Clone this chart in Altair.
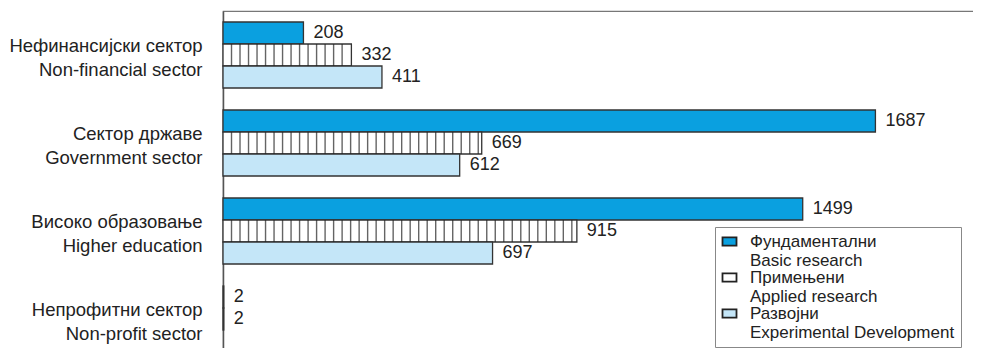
import altair as alt
import pandas as pd

groups = [
    "Нефинансијски сектор|Non-financial sector",
    "Сектор државе|Government sector",
    "Високо образовање|Higher education",
    "Непрофитни сектор|Non-profit sector",
]
series = [
    "Фундаментални|Basic research",
    "Примењени|Applied research",
    "Развојни|Experimental Development",
]
basic = [208, 1687, 1499, 2]
applied = [332, 669, 915, 2]
development = [411, 612, 697, None]

rows = []
for g, b, a, d in zip(groups, basic, applied, development):
    for s, v in zip(series, [b, a, d]):
        if v is not None:
            rows.append({"group": g, "series": s, "value": v})
df = pd.DataFrame(rows)

# vertical hatch lines for the "applied" bars (decoration derived from values)
stripe_step = 22
stripes = []
for g, a in zip(groups, applied):
    k = 1
    while k * stripe_step < a - 4:
        stripes.append({"group": g, "series": series[1], "value": k * stripe_step})
        k += 1
sdf = pd.DataFrame(stripes)

FONT = "Liberation Sans"

y_enc = alt.Y(
    "group:N",
    sort=groups,
    scale=alt.Scale(paddingInner=0.25, paddingOuter=0.125),
    axis=alt.Axis(
        title=None,
        ticks=False,
        labelExpr="split(datum.label, '|')",
        labelFont=FONT,
        labelFontSize=18.5,
        labelLineHeight=24,
        labelColor="#222",
        labelPadding=21,
        labelOffset=-9,
        labelLimit=400,
        domainColor="#555",
        domainWidth=1.5,
        grid=False,
    ),
)
yoff = alt.YOffset("series:N", sort=series, scale=alt.Scale(paddingInner=0, paddingOuter=0))
x_scale = alt.Scale(domain=[0, 1960], nice=False, zero=True)
x_enc = alt.X("value:Q", scale=x_scale, axis=None)

bars = alt.Chart(df).mark_bar(stroke="#333", strokeWidth=1.3).encode(
    x=x_enc,
    y=y_enc,
    yOffset=yoff,
    fill=alt.Fill(
        "series:N",
        sort=series,
        scale=alt.Scale(domain=series, range=["#0aa0e0", "#ffffff", "#c4e6f8"]),
        legend=alt.Legend(
            title=None,
            orient="none",
            legendX=492,
            legendY=216,
            labelExpr="split(datum.label, '|')",
            labelFont=FONT,
            labelFontSize=17,
            labelColor="#222",
            labelBaseline="middle",
            labelOffset=12,
            labelLimit=400,
            symbolType="M-1,-0.6H1V0.6H-1Z",
            symbolSize=196,
            symbolStrokeColor="#222",
            symbolStrokeWidth=1.8,
            rowPadding=-1,
            padding=6,
            strokeColor="#888",
            fillColor="white",
        ),
    ),
)

hatch = alt.Chart(sdf).mark_tick(orient="vertical", size=22, thickness=1.4, color="#222").encode(
    x=x_enc,
    y=alt.Y("group:N", sort=groups),
    yOffset=yoff,
)

labels = alt.Chart(df).mark_text(
    align="left", baseline="middle", dx=10, font=FONT, fontSize=18, color="#222"
).encode(
    x=x_enc,
    y=alt.Y("group:N", sort=groups),
    yOffset=yoff,
    text=alt.Text("value:Q", format="d"),
)

chart = (
    alt.layer(bars, hatch, labels)
    .properties(
        width=758,
        height=352,
        autosize=alt.AutoSizeParams(type="none"),
        padding={"left": 215, "top": 3, "right": -8, "bottom": -15},
        background="white",
    )
    .configure_view(stroke="#777", strokeWidth=1.2)
)

chart.save("out.html", embed_options={"renderer": "svg", "actions": False})
